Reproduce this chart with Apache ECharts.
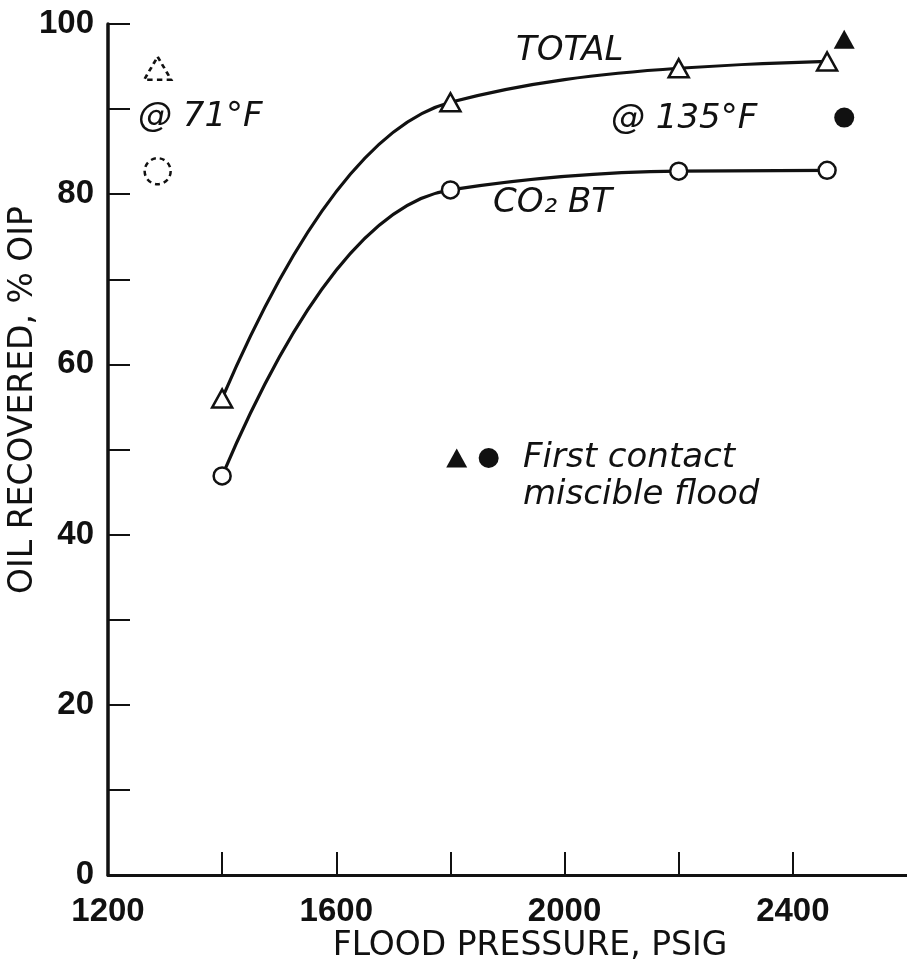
<!DOCTYPE html>
<html>
<head>
<meta charset="utf-8">
<script src="https://cdn.jsdelivr.net/npm/echarts@6/dist/echarts.min.js"></script>
<style>
  html, body { margin: 0; padding: 0; background: #fff; }
  #chart { width: 907px; height: 967px; }
</style>
</head>
<body>
<div id="chart"></div>
<script>
// Flood pressure (psig) for the 135°F runs
const pressure = [1400, 1800, 2200, 2460];
// Oil recovered, % OIP
const totalRecovery = [56.0, 90.8, 94.8, 95.6];
const co2BtRecovery = [46.9, 80.5, 82.7, 82.8];

// First-contact miscible flood at 135°F
const fcmPressure = 2490;
const fcmTotal = 98.2;
const fcmCo2Bt = 89.0;

// 71°F key symbols (dashed outline)
const key71Pressure = 1287;
const key71Total = 94.8;
const key71Co2Bt = 82.7;

// Key symbols beside the "First contact miscible flood" note
const noteTriangle = [1811, 49.0];
const noteCircle = [1867, 49.0];

// Axis ticks
const xTickStep = 200;
const xLabelValues = [1200, 1600, 2000, 2400];
const yTickStep = 10;
const yLabelValues = [0, 20, 40, 60, 80, 100];

const ink = '#111';
const chart = echarts.init(document.getElementById('chart'));

const tickFont = {
  color: ink,
  fontFamily: 'Liberation Sans',
  fontWeight: 'bold',
  fontSize: 33
};

function note(text, x, y) {
  return {
    type: 'text', x: x, y: y,
    style: {
      text: text, fill: ink, verticalAlign: 'middle',
      font: 'oblique 34px "DejaVu Sans"'
    }
  };
}

// Monotone cubic Hermite tangents (pixel space), quadratic end conditions
function tangents(pts) {
  const n = pts.length;
  const h = [], d = [];
  for (let k = 0; k < n - 1; k++) {
    h.push(pts[k + 1][0] - pts[k][0]);
    d.push((pts[k + 1][1] - pts[k][1]) / h[k]);
  }
  const m = new Array(n).fill(0);
  for (let k = 1; k < n - 1; k++) {
    if (d[k - 1] * d[k] <= 0) { m[k] = 0; continue; }
    const w1 = 2 * h[k] + h[k - 1];
    const w2 = h[k] + 2 * h[k - 1];
    m[k] = (w1 + w2) / (w1 / d[k - 1] + w2 / d[k]);
  }
  const end = (dk, mk) => {
    let v = 2 * dk - mk;
    if (v * dk <= 0) v = 0;
    if (Math.abs(v) > 3 * Math.abs(dk)) v = 3 * dk;
    return v;
  };
  m[0] = end(d[0], m[1]);
  m[n - 1] = end(d[n - 2], m[n - 2]);
  return m;
}

// Smooth curve through the measured points, placed with the chart's own axes
function curveSeries(name, values) {
  return {
    name: name,
    type: 'custom',
    coordinateSystem: 'cartesian2d',
    data: pressure.map((p, i) => [p, values[i]]),
    encode: { x: 0, y: 1 },
    silent: true,
    z: 2,
    renderItem: function (params, api) {
      if (params.dataIndex !== 0) return null;
      const pts = pressure.map((p, i) => api.coord([p, values[i]]));
      const m = tangents(pts);
      let path = 'M' + pts[0][0] + ' ' + pts[0][1];
      for (let k = 0; k < pts.length - 1; k++) {
        const hk = (pts[k + 1][0] - pts[k][0]) / 3;
        path += ' C' + (pts[k][0] + hk) + ' ' + (pts[k][1] + m[k] * hk) + ' ' +
                (pts[k + 1][0] - hk) + ' ' + (pts[k + 1][1] - m[k + 1] * hk) + ' ' +
                pts[k + 1][0] + ' ' + pts[k + 1][1];
      }
      return {
        type: 'path',
        shape: { pathData: path },
        style: { fill: 'none', stroke: ink, lineWidth: 3.2 }
      };
    }
  };
}

chart.setOption({
  backgroundColor: '#fff',
  animation: false,
  grid: { left: 108, right: -7, top: 24, bottom: 92 },
  xAxis: {
    type: 'value',
    min: 1200,
    max: 2600,
    interval: xTickStep,
    axisLine: { show: true, lineStyle: { color: ink, width: 3 } },
    axisTick: { show: true, inside: true, length: 23, lineStyle: { color: ink, width: 2 } },
    splitLine: { show: false },
    axisLabel: Object.assign({
      margin: 20,
      showMaxLabel: false,
      formatter: v => xLabelValues.includes(v) ? String(v) : ''
    }, tickFont)
  },
  yAxis: {
    type: 'value',
    min: 0,
    max: 100,
    interval: yTickStep,
    axisLine: { show: true, lineStyle: { color: ink, width: 3.5 } },
    axisTick: { show: true, inside: true, length: 22, lineStyle: { color: ink, width: 2 } },
    splitLine: { show: false },
    axisLabel: Object.assign({
      margin: 14,
      formatter: v => yLabelValues.includes(v) ? String(v) : ''
    }, tickFont)
  },
  graphic: [
    { type: 'text', x: 530, y: 946,
      style: { text: 'FLOOD PRESSURE, PSIG', fill: ink, align: 'center', verticalAlign: 'middle',
               font: '33px "DejaVu Sans"' } },
    { type: 'text', x: 23, y: 400, rotation: Math.PI / 2,
      style: { text: 'OIL RECOVERED, % OIP', fill: ink, align: 'center', verticalAlign: 'middle',
               font: '33px "DejaVu Sans"' } },
    note('@ 71°F', 138, 117),
    note('TOTAL', 516, 51),
    note('@ 135°F', 611, 119),
    note('CO₂ BT', 493, 203),
    note('First contact', 523, 458),
    note('miscible flood', 523, 495)
  ],
  series: [
    curveSeries('TOTAL curve', totalRecovery),
    curveSeries('CO₂ BT curve', co2BtRecovery),
    {
      name: 'TOTAL',
      type: 'scatter',
      data: pressure.map((p, i) => [p, totalRecovery[i]]),
      symbol: 'triangle',
      symbolSize: [20, 18],
      itemStyle: { color: '#fff', opacity: 1, borderColor: ink, borderWidth: 2.5 },
      z: 4
    },
    {
      name: 'CO₂ BT',
      type: 'scatter',
      data: pressure.map((p, i) => [p, co2BtRecovery[i]]),
      symbol: 'circle',
      symbolSize: 17,
      itemStyle: { color: '#fff', opacity: 1, borderColor: ink, borderWidth: 2.5 },
      z: 4
    },
    {
      name: 'First contact total',
      type: 'scatter',
      data: [[fcmPressure, fcmTotal], noteTriangle],
      symbol: 'triangle',
      symbolSize: [21, 19],
      itemStyle: { color: ink, opacity: 1 }
    },
    {
      name: 'First contact CO₂ BT',
      type: 'scatter',
      data: [[fcmPressure, fcmCo2Bt], noteCircle],
      symbol: 'circle',
      symbolSize: 20,
      itemStyle: { color: ink, opacity: 1 }
    },
    {
      name: '71°F total',
      type: 'scatter',
      data: [[key71Pressure, key71Total]],
      symbol: 'triangle',
      symbolSize: [27, 23],
      itemStyle: { color: '#fff', opacity: 1, borderColor: ink, borderWidth: 2.5, borderType: [5, 4] }
    },
    {
      name: '71°F CO₂ BT',
      type: 'scatter',
      data: [[key71Pressure, key71Co2Bt]],
      symbol: 'circle',
      symbolSize: 26,
      itemStyle: { color: '#fff', opacity: 1, borderColor: ink, borderWidth: 2.5, borderType: [5, 4] }
    }
  ]
});
</script>
</body>
</html>
